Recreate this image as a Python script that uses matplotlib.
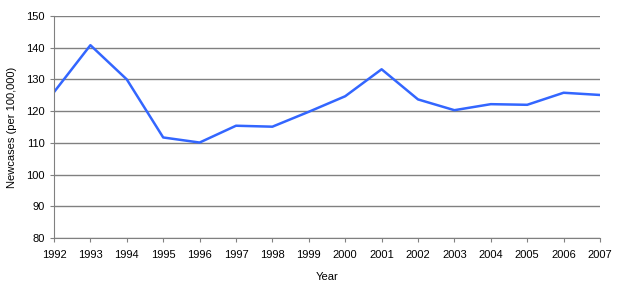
import matplotlib
matplotlib.use("Agg")
import matplotlib.pyplot as plt

years = list(range(1992, 2008))
cases = [126, 140.8, 130, 111.7, 110.1, 115.4, 115.1, 119.8, 124.7, 133.2, 123.7, 120.3, 122.2, 122.0, 125.8, 125.1]
yticks = [80, 90, 100, 110, 120, 130, 140, 150]

plt.rcParams['font.family'] = ['Liberation Sans', 'DejaVu Sans']
fig = plt.figure(figsize=(6.2, 2.85), dpi=100)
ax = fig.add_axes([54/620, 1-238/285, (600-54)/620, (238-16)/285])
ax.plot(years, cases, color='#3366FF', lw=1.8)
ax.set_xlim(1992, 2007)
ax.set_ylim(80, 150)
ax.set_xticks(years)
ax.set_yticks(yticks)
ax.tick_params(labelsize=8, length=3, width=0.8, colors='#808080', labelcolor='black')
ax.tick_params(axis='x', pad=6)
ax.yaxis.grid(True, color='#808080', lw=1)
ax.set_axisbelow(True)
for s in ['top', 'right']:
    ax.spines[s].set_visible(False)
for s in ['left', 'bottom']:
    ax.spines[s].set_color('#808080')
ax.set_xlabel('Year', fontsize=8, labelpad=8)
ax.set_ylabel('Newcases (per 100,000)', fontsize=8, labelpad=7)
fig.savefig('out.png', dpi=100)
